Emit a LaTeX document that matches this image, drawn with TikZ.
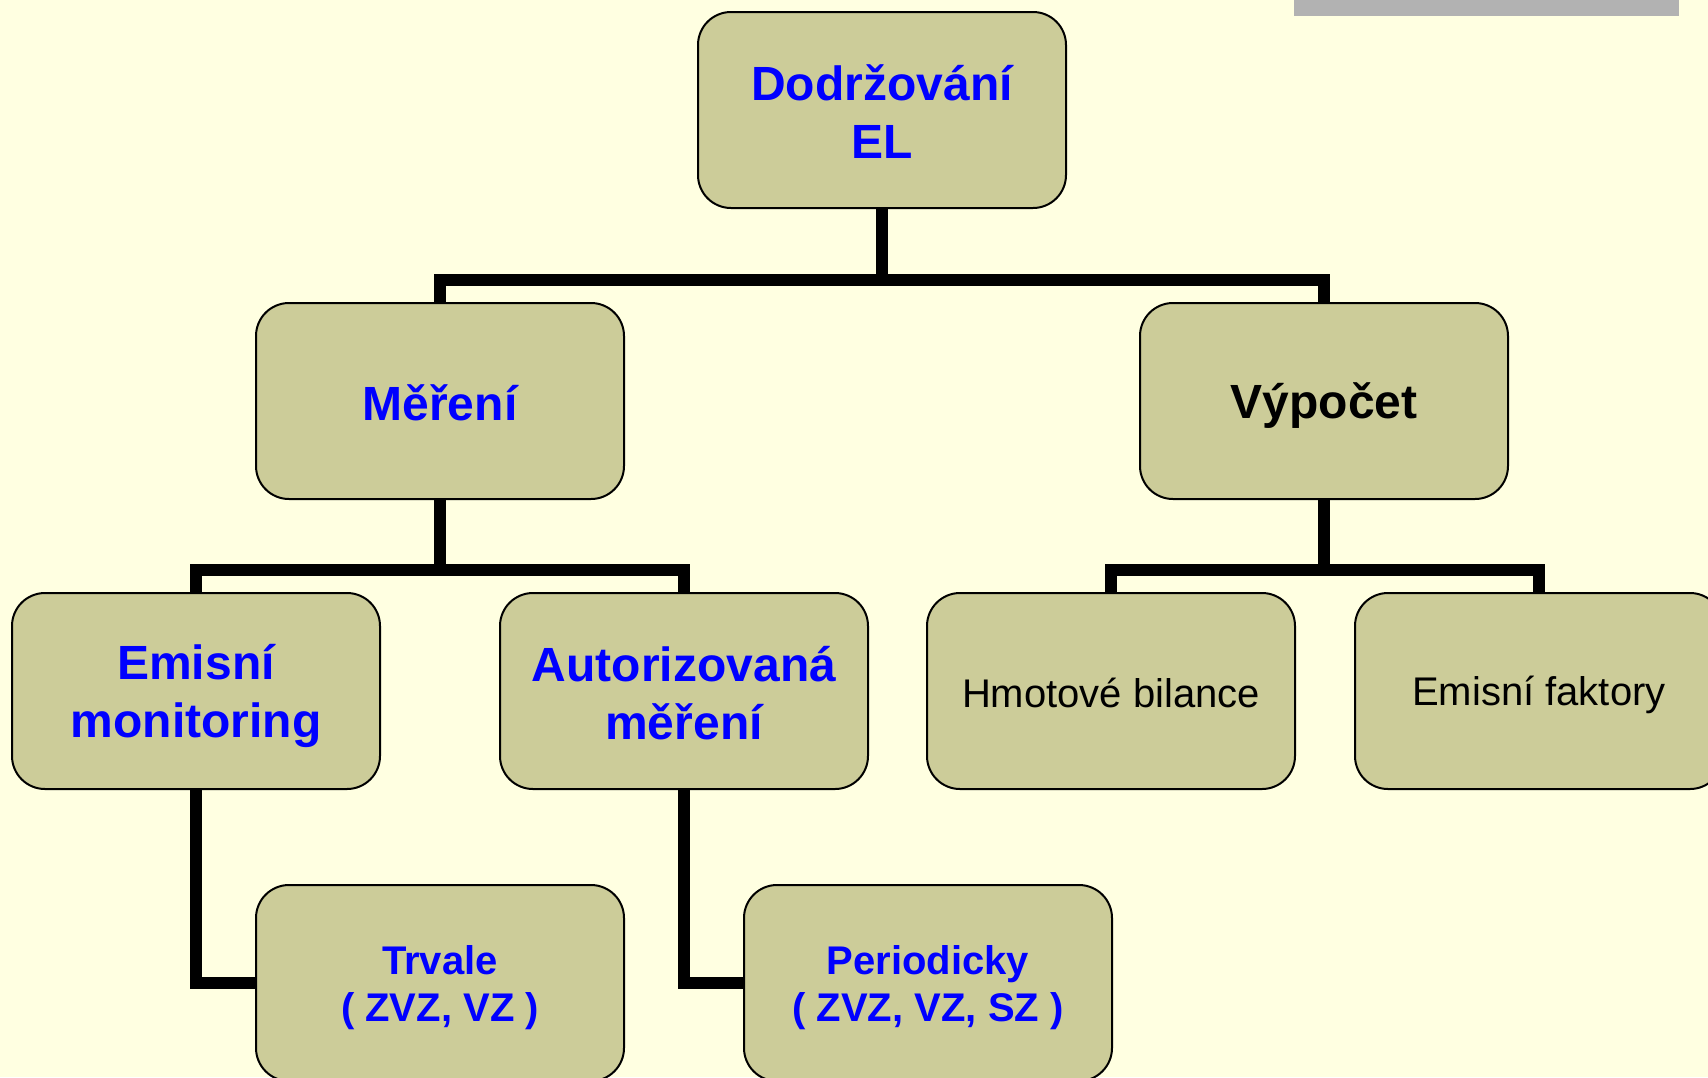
\documentclass[tikz,border=0pt]{standalone}
\usepackage{fontspec}
\setmainfont{Liberation Sans}
\usetikzlibrary{backgrounds}
\definecolor{bgyellow}{HTML}{FFFFE1}
\definecolor{boxfill}{HTML}{CCCC99}
\definecolor{txtblue}{HTML}{0000FF}
\definecolor{bargray}{HTML}{B2B2B2}
\newcommand\ppstrut{\rule[-0.144em]{0pt}{1.094em}}
\tikzset{
  box/.style={draw=black, line width=2pt, fill=boxfill, rounded corners=33pt,
    minimum width=368pt, minimum height=196pt, inner sep=0pt, align=center},
  bigtxt/.style={font=\fontsize{48}{58}\selectfont\bfseries},
  midtxt/.style={font=\fontsize{40}{47}\selectfont\bfseries},
  plaintxt/.style={font=\fontsize{40}{48}\selectfont},
  conn/.style={draw=black, line width=12pt, line join=miter}
}
\begin{document}
\begin{tikzpicture}[x=1pt,y=-1pt]
\useasboundingbox (0,0) rectangle (1708,1077);
\clip (0,0) rectangle (1708,1077);
\node[box,bigtxt,text=txtblue] (top) at (882,110) {\ppstrut Dodržování\\\ppstrut EL};
\node[box,bigtxt,text=txtblue] (mer) at (440,401) {\ppstrut Měření};
\node[box,bigtxt,text=black] (vyp) at (1324,401) {\ppstrut Výpočet};
\node[box,bigtxt,text=txtblue] (emo) at (196,691) {\ppstrut Emisní\\\ppstrut monitoring};
\node[box,bigtxt,text=txtblue] (aut) at (684,691) {\ppstrut Autorizovaná\\\ppstrut měření};
\node[box,plaintxt,text=black] (hmo) at (1111,691) {\ppstrut Hmotové bilance};
\node[box,plaintxt,text=black] (efa) at (1539,691) {\ppstrut Emisní faktory};
\node[box,midtxt,text=txtblue] (trv) at (440,983) {\ppstrut Trvale\\\ppstrut ( ZVZ, VZ )};
\node[box,midtxt,text=txtblue] (per) at (928,983) {\ppstrut Periodicky\\\ppstrut ( ZVZ, VZ, SZ )};
\begin{scope}[on background layer]
  \fill[bgyellow] (0,0) rectangle (1708,1077);
  \fill[bargray] (1294,0) rectangle (1679,16);
  \coordinate (b1) at (0,280);
  \coordinate (b2) at (0,570);
  \draw[conn] (top.south) -- (top.south |- b1);
  \draw[conn] (mer.north) |- (vyp.north |- b1) -- (vyp.north);
  \draw[conn] (mer.south) -- (mer.south |- b2);
  \draw[conn] (emo.north) |- (aut.north |- b2) -- (aut.north);
  \draw[conn] (vyp.south) -- (vyp.south |- b2);
  \draw[conn] (hmo.north) |- (efa.north |- b2) -- (efa.north);
  \draw[conn] (emo.south) |- (trv.west);
  \draw[conn] (aut.south) |- (per.west);
\end{scope}
\end{tikzpicture}
\end{document}
